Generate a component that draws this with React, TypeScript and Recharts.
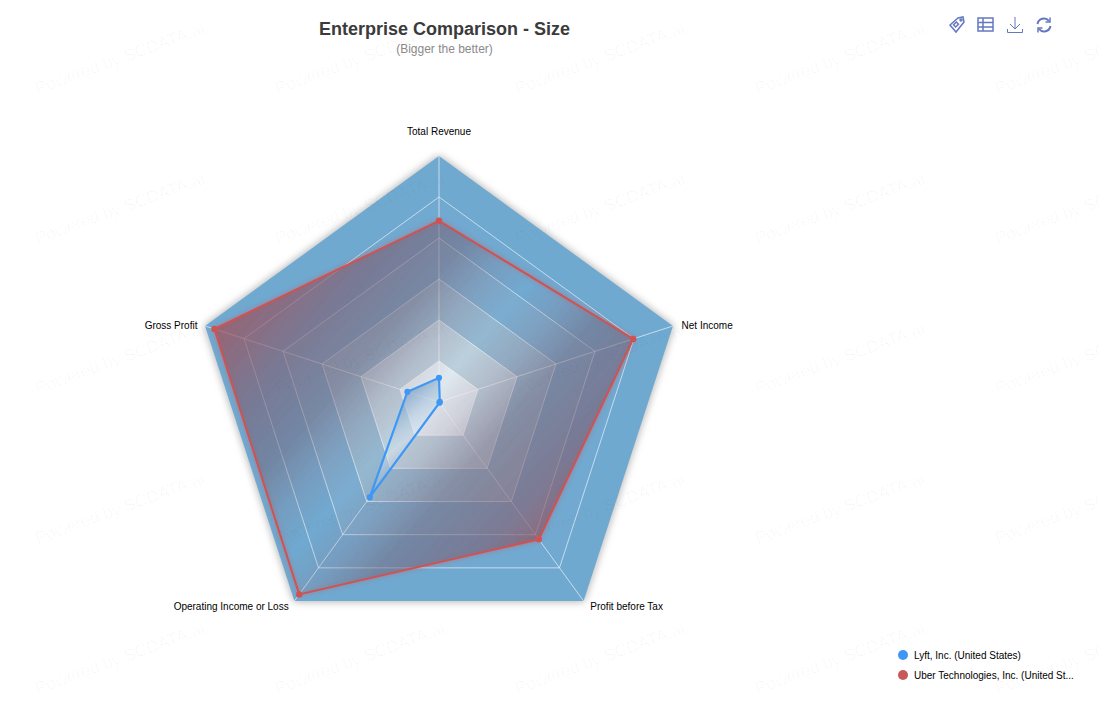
import { Legend, PolarAngleAxis, PolarRadiusAxis, Radar, RadarChart } from 'recharts';

const categories = ['Total Revenue', 'Net Income', 'Profit before Tax', 'Operating Income or Loss', 'Gross Profit'];
const lyftValues = [0.59, 0.02, 0.02, 2.87, 0.81];
const uberValues = [4.42, 4.98, 4.14, 5.8, 5.76];
const ringLevels = [6, 5, 4, 3, 2, 1];
const ringColors = ['#70a9d0', '#72a9d0', '#7cadd0', '#95b8d0', '#bccfdc', '#e0e8ef'];

const LYFT_NAME = 'Lyft, Inc. (United States)';
const UBER_NAME = 'Uber Technologies, Inc. (United St...';
const LYFT_COLOR = '#3f97f5';
const UBER_COLOR = '#cf5353';

const chartData = categories.map((category, i) => {
  const row: Record<string, string | number> = { category, lyft: lyftValues[i], uber: uberValues[i] };
  ringLevels.forEach((level) => {
    row[`ring${level}`] = level;
  });
  return row;
});

// label nudges from where the angle axis puts them by default
const labelOffsets: Record<string, [number, number]> = {
  'Total Revenue': [0, -16],
  'Net Income': [1, 3],
  'Profit before Tax': [2, 0],
  'Operating Income or Loss': [-1, 0],
  'Gross Profit': [0, 3],
};

function AngleTick({ x, y, payload, textAnchor }: any) {
  const [dx, dy] = labelOffsets[payload.value] ?? [0, 0];
  return (
    <text x={x + dx} y={y + dy} textAnchor={textAnchor} fontSize={10} fill="#000" dominantBaseline="middle">
      {payload.value}
    </text>
  );
}

// the grid goes under the series, so the spokes are drawn from the radar's own points
function Spokes({ points }: any) {
  return (
    <g>
      {points.map((p: any, i: number) => (
        <line key={i} x1={p.cx} y1={p.cy} x2={p.x} y2={p.y} stroke="#fff" strokeOpacity={0.6} />
      ))}
    </g>
  );
}

function LegendList({ payload }: any) {
  return (
    <div>
      {(payload ?? []).map((entry: any) => (
        <div key={entry.value} style={{ display: 'flex', alignItems: 'center', height: 20 }}>
          <span style={{ width: 10, height: 10, borderRadius: 5, background: entry.color, marginRight: 6 }} />
          <span style={{ fontSize: 10, color: '#000', whiteSpace: 'nowrap' }}>{entry.value}</span>
        </div>
      ))}
    </div>
  );
}

function Watermarks() {
  const marks = [];
  for (let row = 0; row < 5; row++) {
    for (let col = 0; col < 5; col++) {
      marks.push(
        <div
          key={`${row}-${col}`}
          style={{
            position: 'absolute',
            left: 120 + col * 240 - 100,
            top: 59 + row * 150 - 12,
            width: 200,
            textAlign: 'center',
            fontSize: 17,
            lineHeight: '24px',
            color: 'rgba(0,0,0,0.031)',
            transform: 'rotate(-20deg)',
            whiteSpace: 'nowrap',
          }}
        >
          Powered by SCDATA.ai
        </div>,
      );
    }
  }
  return <div style={{ position: 'absolute', inset: 0, overflow: 'hidden', pointerEvents: 'none' }}>{marks}</div>;
}

function Toolbox() {
  const stroke = '#6478c0';
  return (
    <svg width={120} height={24} style={{ position: 'absolute', left: 945, top: 13 }} fill="none" stroke={stroke} strokeWidth={1.5}>
      <g>
        <path d="M5 12 L13 5 L18 4 L19 9 L11 19 Z" />
        <rect x={9} y={10} width={4} height={3} transform="rotate(-45 11 11.5)" />
        <circle cx={16} cy={7} r={1} />
      </g>
      <g transform="translate(33,5)">
        <rect x={0} y={0} width={15} height={13} />
        <path d="M0 4.5 H15 M0 9 H15 M5 0 V13" />
      </g>
      <g transform="translate(62,4)" strokeWidth={1}>
        <path d="M8 0 V11 M3 7 L8 12 L13 7 M0.5 12 V15.5 H15.5 V12" />
      </g>
      <g transform="translate(91,4)" strokeWidth={2}>
        <path d="M1.5 7 A6.5 6.5 0 0 1 13 4 M14.5 9 A6.5 6.5 0 0 1 3 12" />
        <path d="M14 0.5 V5 H9.5 M2 15.5 V11 H6.5" strokeWidth={1.5} />
      </g>
    </svg>
  );
}

export default function App() {
  return (
    <div style={{ position: 'absolute', left: 0, top: 0, width: 1099, height: 705, overflow: 'hidden', fontFamily: '"Liberation Sans", Arial, sans-serif', background: '#fff' }}>
      <style>{`
        .ring-outer { filter: drop-shadow(0 0 4px rgba(0,0,0,0.18)); }
        .uber-area { filter: drop-shadow(0 0 2px rgba(207,83,83,0.3)); }
      `}</style>
      <div style={{ position: 'absolute', left: 0, width: 889, top: 18, textAlign: 'center', fontSize: 18, fontWeight: 700, color: '#3b3b3b', lineHeight: '22px' }}>
        Enterprise Comparison - Size
      </div>
      <div style={{ position: 'absolute', left: 0, width: 889, top: 41, textAlign: 'center', fontSize: 12, color: '#8a8a8a', lineHeight: '16px' }}>
        (Bigger the better)
      </div>
      <RadarChart width={1099} height={705} data={chartData} cx={439} cy={402} outerRadius={246} margin={{ top: 0, right: 0, bottom: 0, left: 0 }}>
        <defs>
          <linearGradient id="uberFill" gradientUnits="userSpaceOnUse" x1={267} y1={264} x2={583} y2={540}>
            <stop offset="0%" stopColor="#a04a52" stopOpacity={0.6} />
            <stop offset="18%" stopColor="#66607a" stopOpacity={0.48} />
            <stop offset="32%" stopColor="#4f6c88" stopOpacity={0.36} />
            <stop offset="42%" stopColor="#5f86a4" stopOpacity={0.12} />
            <stop offset="50%" stopColor="#7ab0d0" stopOpacity={0} />
            <stop offset="58%" stopColor="#5f86a4" stopOpacity={0.12} />
            <stop offset="68%" stopColor="#4f6c88" stopOpacity={0.36} />
            <stop offset="84%" stopColor="#66607a" stopOpacity={0.48} />
            <stop offset="100%" stopColor="#a04a52" stopOpacity={0.65} />
          </linearGradient>
          <linearGradient id="lyftFill" gradientUnits="userSpaceOnUse" x1={370} y1={405} x2={430} y2={485}>
            <stop offset="0%" stopColor="#2f6aa8" stopOpacity={0.55} />
            <stop offset="50%" stopColor="#dbe8f2" stopOpacity={0.45} />
            <stop offset="100%" stopColor="#2f5f90" stopOpacity={0.7} />
          </linearGradient>
        </defs>
        {ringLevels.map((level, i) => (
          <Radar
            key={level}
            dataKey={`ring${level}`}
            className={i === 0 ? 'ring-outer' : undefined}
            fill={ringColors[i]}
            fillOpacity={1}
            stroke={i === 0 ? 'none' : '#ffffff'}
            strokeOpacity={0.6}
            strokeWidth={1}
            dot={false}
            legendType="none"
            isAnimationActive={false}
          />
        ))}
        <Radar dataKey="ring6" shape={<Spokes />} stroke="none" fill="none" dot={false} legendType="none" isAnimationActive={false} />
        <PolarAngleAxis dataKey="category" tick={<AngleTick />} tickLine={false} axisLine={false} />
        <PolarRadiusAxis domain={[0, 6]} tickCount={7} tick={false} axisLine={false} />
        <Radar
          name={UBER_NAME}
          dataKey="uber"
          className="uber-area"
          stroke={UBER_COLOR}
          strokeWidth={2}
          fill="url(#uberFill)"
          fillOpacity={1}
          dot={{ r: 2.2, fill: UBER_COLOR, stroke: UBER_COLOR }}
          isAnimationActive={false}
        />
        <Radar
          name={LYFT_NAME}
          dataKey="lyft"
          stroke={LYFT_COLOR}
          strokeWidth={2.2}
          fill="url(#lyftFill)"
          fillOpacity={1}
          dot={{ r: 2, fill: LYFT_COLOR, stroke: LYFT_COLOR }}
          isAnimationActive={false}
        />
        <Legend
          content={() => (
            <LegendList
              payload={[
                { value: LYFT_NAME, color: LYFT_COLOR },
                { value: UBER_NAME, color: '#c95858' },
              ]}
            />
          )}
          layout="vertical"
          wrapperStyle={{ position: 'absolute', left: 898, top: 645, width: 190 }}
        />
      </RadarChart>
      <Toolbox />
      <Watermarks />
    </div>
  );
}
